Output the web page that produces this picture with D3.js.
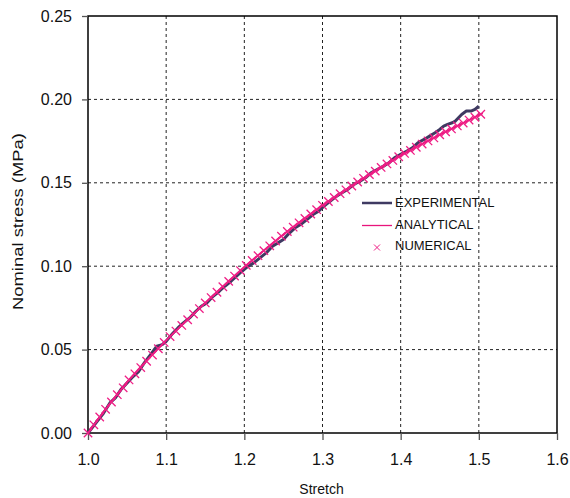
<!DOCTYPE html>
<html>
<head>
<meta charset="utf-8">
<script src="https://cdn.jsdelivr.net/npm/d3@7"></script>
<style>
  html, body { margin: 0; padding: 0; background: #fff; }
  svg { display: block; font-family: "Liberation Sans", Arial, sans-serif; }
</style>
</head>
<body>
<svg id="chart" width="570" height="498"></svg>
<script>
// ---- data ----
const xTicks = [1.0, 1.1, 1.2, 1.3, 1.4, 1.5, 1.6];
const yTicks = [0.00, 0.05, 0.10, 0.15, 0.20, 0.25];
const seriesNames = ["EXPERIMENTAL", "ANALYTICAL", "NUMERICAL"];

const expStretch = [1.000,1.010,1.020,1.028,1.035,1.042,1.050,1.058,1.065,1.072,1.080,1.088,1.095,1.100,1.107,1.115,1.122,1.130,1.138,1.145,1.152,1.160,1.168,1.175,1.183,1.190,1.197,1.205,1.212,1.220,1.228,1.236,1.243,1.250,1.258,1.265,1.272,1.280,1.288,1.295,1.302,1.310,1.318,1.325,1.332,1.340,1.348,1.355,1.362,1.370,1.378,1.385,1.392,1.400,1.408,1.415,1.422,1.430,1.437,1.444,1.450,1.455,1.460,1.466,1.470,1.474,1.478,1.484,1.490,1.495,1.500];
const expStress = [0.000,0.006,0.012,0.018,0.021,0.026,0.030,0.034,0.037,0.042,0.047,0.052,0.053,0.055,0.059,0.063,0.066,0.069,0.073,0.076,0.078,0.082,0.085,0.088,0.091,0.094,0.097,0.100,0.102,0.105,0.108,0.112,0.114,0.116,0.120,0.123,0.125,0.128,0.131,0.133,0.136,0.139,0.142,0.144,0.146,0.149,0.151,0.153,0.156,0.158,0.160,0.162,0.165,0.167,0.169,0.171,0.174,0.176,0.178,0.180,0.182,0.184,0.185,0.186,0.187,0.189,0.191,0.193,0.193,0.194,0.196];

const anaStretch = [1.00,1.05,1.10,1.15,1.20,1.25,1.30,1.35,1.40,1.45,1.50,1.505];
const anaStress  = [0.0000,0.0305,0.0555,0.0780,0.0995,0.1190,0.1365,0.1520,0.1663,0.1788,0.1905,0.1917];

const numStretch = [1.0000,1.0075,1.0150,1.0225,1.0300,1.0375,1.0450,1.0525,1.0600,1.0675,1.0750,1.0825,1.0900,1.0975,1.1050,1.1125,1.1200,1.1275,1.1350,1.1425,1.1500,1.1575,1.1650,1.1725,1.1800,1.1875,1.1950,1.2025,1.2100,1.2175,1.2250,1.2325,1.2400,1.2475,1.2550,1.2625,1.2700,1.2775,1.2850,1.2925,1.3000,1.3075,1.3150,1.3225,1.3300,1.3375,1.3450,1.3525,1.3600,1.3675,1.3750,1.3825,1.3900,1.3975,1.4050,1.4125,1.4200,1.4275,1.4350,1.4425,1.4500,1.4575,1.4650,1.4725,1.4800,1.4875,1.4950,1.5025];
const numStress  = [0.0000,0.0049,0.0096,0.0142,0.0186,0.0230,0.0271,0.0318,0.0355,0.0392,0.0430,0.0467,0.0505,0.0543,0.0578,0.0611,0.0645,0.0679,0.0713,0.0746,0.0780,0.0812,0.0844,0.0877,0.0909,0.0941,0.0974,0.1005,0.1034,0.1063,0.1093,0.1122,0.1151,0.1180,0.1208,0.1234,0.1260,0.1286,0.1313,0.1339,0.1365,0.1388,0.1412,0.1435,0.1458,0.1481,0.1505,0.1527,0.1549,0.1570,0.1592,0.1613,0.1634,0.1656,0.1676,0.1694,0.1713,0.1732,0.1751,0.1769,0.1788,0.1806,0.1823,0.1841,0.1858,0.1876,0.1893,0.1911];

// ---- layout ----
const W = 570, H = 498;
const m = { left: 88, right: 13, top: 16, bottom: 65 };
const iw = W - m.left - m.right, ih = H - m.top - m.bottom;
const colExp = "#3f3a62", colAna = "#e8147c", colNum = "#ef1f86";

const svg = d3.select("#chart");
const g = svg.append("g").attr("transform", `translate(${m.left},${m.top})`);

const x = d3.scaleLinear().domain([1.0, 1.6]).range([0, iw]);
const y = d3.scaleLinear().domain([0, 0.25]).range([ih, 0]);

// gridlines
g.append("g").selectAll("line").data(xTicks.slice(1, -1)).join("line")
  .attr("x1", d => x(d)).attr("x2", d => x(d)).attr("y1", 0).attr("y2", ih)
  .attr("stroke", "#222").attr("stroke-width", 1).attr("stroke-dasharray", "3,3");
g.append("g").selectAll("line").data(yTicks.slice(1, -1)).join("line")
  .attr("y1", d => y(d)).attr("y2", d => y(d)).attr("x1", 0).attr("x2", iw)
  .attr("stroke", "#222").attr("stroke-width", 1).attr("stroke-dasharray", "3,3");

// frame
g.append("rect").attr("x", 0).attr("y", 0).attr("width", iw).attr("height", ih)
  .attr("fill", "none").attr("stroke", "#000").attr("stroke-width", 1.5);

// axes
const xAxis = g.append("g").attr("transform", `translate(0,${ih})`)
  .call(d3.axisBottom(x).tickValues(xTicks).tickFormat(d3.format(".1f")).tickSize(7).tickPadding(14));
const yAxis = g.append("g")
  .call(d3.axisLeft(y).tickValues(yTicks).tickFormat(d3.format(".2f")).tickSize(6).tickPadding(10));
[xAxis, yAxis].forEach(a => {
  a.select(".domain").remove();
  a.selectAll(".tick line").attr("stroke", "#555").attr("stroke-width", 1.3);
  a.selectAll(".tick text").attr("fill", "#111").style("font-size", "16px")
    .style("font-family", "'Liberation Sans', Arial, sans-serif");
});

// series
const line = d3.line().x(d => x(d[0])).y(d => y(d[1]));
g.append("path").datum(d3.zip(expStretch, expStress))
  .attr("d", line).attr("fill", "none").attr("stroke", colExp)
  .attr("stroke-width", 3).attr("stroke-linejoin", "round");
g.append("path").datum(d3.zip(anaStretch, anaStress))
  .attr("d", line.curve(d3.curveMonotoneX)).attr("fill", "none").attr("stroke", colAna)
  .attr("stroke-width", 1.8);

const mk = 4.2;
const cross = (sel) => sel.append("path")
  .attr("d", `M${-mk},${-mk}L${mk},${mk}M${-mk},${mk}L${mk},${-mk}`)
  .attr("stroke", colNum).attr("stroke-width", 1.3).attr("fill", "none");
g.append("g").selectAll("g").data(d3.zip(numStretch, numStress)).join("g")
  .attr("transform", d => `translate(${x(d[0])},${y(d[1])})`)
  .call(cross);

// legend
const lg = svg.append("g");
const lx0 = 362, lx1 = 392, tx = 395;
lg.append("line").attr("x1", lx0).attr("x2", lx1).attr("y1", 203).attr("y2", 203)
  .attr("stroke", colExp).attr("stroke-width", 2.5);
lg.append("line").attr("x1", lx0).attr("x2", lx1).attr("y1", 225.5).attr("y2", 225.5)
  .attr("stroke", colAna).attr("stroke-width", 1.3);
lg.append("g").attr("transform", "translate(377,247.5)")
  .append("path").attr("d", "M-3,-3L3,3M-3,3L3,-3").attr("stroke", colNum).attr("stroke-width", 1);
const legY = [207, 228.5, 250];
lg.selectAll("text").data(seriesNames).join("text")
  .attr("x", tx).attr("y", (d, i) => legY[i]).text(d => d)
  .attr("fill", "#111").style("font-size", "13px");

// axis titles
svg.append("text").attr("x", m.left + iw / 2 - 1).attr("y", 494).attr("text-anchor", "middle")
  .style("font-size", "14px").attr("fill", "#111").text("Stretch");
svg.append("text").attr("transform", `translate(23,${m.top + ih / 2 - 3}) rotate(-90)`)
  .attr("text-anchor", "middle").style("font-size", "15px").attr("fill", "#111")
  .attr("textLength", 177).attr("lengthAdjust", "spacingAndGlyphs")
  .text("Nominal stress (MPa)");
</script>
</body>
</html>
